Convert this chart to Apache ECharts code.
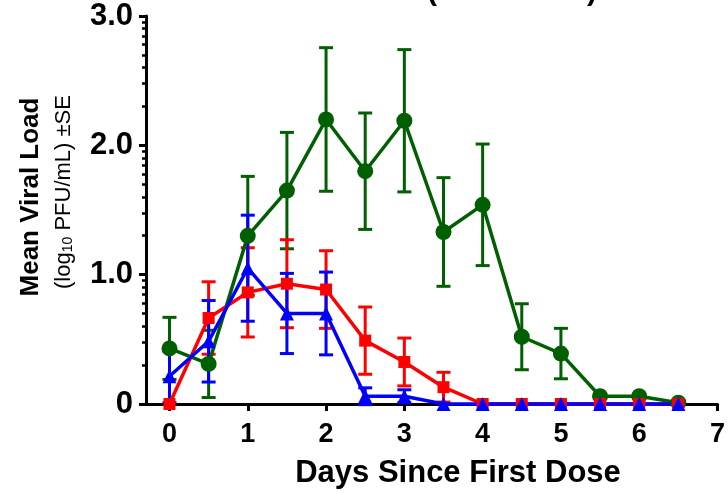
<!DOCTYPE html>
<html lang="en">
  <head>
    <meta charset="UTF-8" />
    <title>Mean Viral Load</title>
    <script src="https://cdn.jsdelivr.net/npm/echarts@6/dist/echarts.min.js"></script>
    <style>
      html, body { margin: 0; padding: 0; background: #fff; }
      .echarts { width: 728px; height: 493px; }
    </style>
  </head>
  <body>
    <div class="echarts"></div>
    <script>
      // days since first dose
      const days = [0, 0.5, 1, 1.5, 2, 2.5, 3, 3.5, 4, 4.5, 5, 5.5, 6, 6.5]
      const xTicks = [0, 1, 2, 3, 4, 5, 6, 7]

      // mean viral load (log10 PFU/mL) and SE per group
      const greenMean = [0.43, 0.31, 1.30, 1.65, 2.20, 1.80, 2.19, 1.33, 1.54, 0.52, 0.39, 0.06, 0.06, 0.01]
      const greenSE = [0.24, 0.26, 0.46, 0.45, 0.555, 0.45, 0.55, 0.42, 0.47, 0.255, 0.195, 0, 0, 0]
      const redMean = [0, 0.665, 0.863, 0.93, 0.885, 0.49, 0.325, 0.13, 0, 0, 0, 0, 0, 0]
      const redSE = [0, 0.28, 0.345, 0.34, 0.30, 0.26, 0.185, 0.115, 0, 0, 0, 0, 0, 0]
      const blueMean = [0.215, 0.485, 1.05, 0.70, 0.70, 0.06, 0.06, 0, 0, 0, 0, 0, 0, 0]
      const blueSE = [0.205, 0.315, 0.41, 0.31, 0.32, 0.065, 0.05, 0, 0, 0, 0, 0, 0, 0]

      // log-spaced minor ticks inside each decade
      const minorTicks = []
      for (let d = 0; d < 3; d++) {
        for (let k = 2; k <= 9; k++) minorTicks.push(d + Math.log10(k))
      }

      const FONT = 'Liberation Sans, Arial, sans-serif'
      const GREEN = '#005f00'
      const RED = '#ff0000'
      const BLUE = '#0000ff'

      const myCharts = echarts.init(document.querySelector('.echarts'))

      function points(mean) {
        return days.map((d, i) => [d, mean[i]])
      }
      function bars(mean, se) {
        return days
          .map((d, i) => [d, mean[i] - se[i], mean[i] + se[i]])
          .filter((r, i) => se[i] > 0)
      }
      function errorBar(color) {
        return function (params, api) {
          const x = api.value(0)
          const lo = api.coord([x, api.value(1)])
          const hi = api.coord([x, api.value(2)])
          const w = 7
          const style = { stroke: color, lineWidth: 3 }
          return {
            type: 'group',
            children: [
              { type: 'line', shape: { x1: lo[0], y1: lo[1], x2: hi[0], y2: hi[1] }, style },
              { type: 'line', shape: { x1: lo[0] - w, y1: lo[1], x2: lo[0] + w, y2: lo[1] }, style },
              { type: 'line', shape: { x1: hi[0] - w, y1: hi[1], x2: hi[0] + w, y2: hi[1] }, style }
            ]
          }
        }
      }
      function errSeries(mean, se, color) {
        return {
          type: 'custom',
          renderItem: errorBar(color),
          data: bars(mean, se),
          encode: { x: 0, y: [1, 2] },
          clip: false,
          silent: true
        }
      }
      function lineSeries(mean, color, symbol, size) {
        return {
          type: 'line',
          data: points(mean),
          symbol: symbol,
          symbolSize: size,
          showAllSymbol: true,
          lineStyle: { color: color, width: 3.5 },
          itemStyle: { color: color, borderWidth: 0 },
          emphasis: { disabled: true },
          clip: false
        }
      }

      const option = {
        animation: false,
        grid: { left: 146, right: 4, top: 16, bottom: 89 },
        xAxis: {
          type: 'value',
          min: -0.3,
          max: 7,
          splitLine: { show: false },
          axisLine: { onZero: false, lineStyle: { color: '#000', width: 3 } },
          axisTick: { customValues: xTicks, length: 7, lineStyle: { color: '#000', width: 3 } },
          axisLabel: {
            customValues: xTicks,
            margin: 17,
            color: '#000',
            fontFamily: FONT,
            fontWeight: 'bold',
            fontSize: 27
          }
        },
        yAxis: [
          {
            type: 'value',
            min: 0,
            max: 3,
            interval: 1,
            splitLine: { show: false },
            axisLine: { show: true, onZero: false, lineStyle: { color: '#000', width: 3 } },
            axisTick: { show: true, length: 7, lineStyle: { color: '#000', width: 3 } },
            axisLabel: {
              margin: 13,
              color: '#000',
              fontFamily: FONT,
              fontWeight: 'bold',
              fontSize: 31,
              formatter: v => (v === 0 ? '0' : v.toFixed(1))
            }
          },
          {
            // minor ticks only
            type: 'value',
            min: 0,
            max: 3,
            position: 'left',
            splitLine: { show: false },
            axisLine: { show: false, onZero: false },
            axisLabel: { show: false },
            axisTick: { show: true, customValues: minorTicks, length: 4, lineStyle: { color: '#000', width: 2.5 } }
          }
        ],
        graphic: [
          {
            type: 'text',
            x: 31,
            y: 197,
            rotation: Math.PI / 2,
            style: {
              text: 'Mean Viral Load',
              font: 'bold 26px ' + FONT,
              fill: '#000',
              align: 'center',
              verticalAlign: 'middle'
            }
          },
          {
            type: 'text',
            x: 64,
            y: 192,
            rotation: Math.PI / 2,
            style: {
              text: '(log{sub|10} PFU/mL) ±SE',
              font: '22px ' + FONT,
              fill: '#000',
              align: 'center',
              verticalAlign: 'middle',
              rich: {
                sub: { fontSize: 14, fontFamily: FONT, verticalAlign: 'bottom', padding: [8, 0, 0, 0] }
              }
            }
          },
          {
            type: 'text',
            x: 458,
            y: 473,
            style: {
              text: 'Days Since First Dose',
              font: 'bold 31px ' + FONT,
              fill: '#000',
              align: 'center',
              verticalAlign: 'middle'
            }
          },
          { type: 'text', x: 432, y: 7, style: { text: '(', font: 'bold 30px ' + FONT, fill: '#000', align: 'center', verticalAlign: 'bottom' } },
          { type: 'text', x: 592, y: 7, style: { text: ')', font: 'bold 30px ' + FONT, fill: '#000', align: 'center', verticalAlign: 'bottom' } }
        ],
        series: [
          errSeries(greenMean, greenSE, GREEN),
          lineSeries(greenMean, GREEN, 'circle', 16),
          errSeries(redMean, redSE, RED),
          lineSeries(redMean, RED, 'rect', 12),
          errSeries(blueMean, blueSE, BLUE),
          lineSeries(blueMean, BLUE, 'triangle', 14)
        ]
      }
      myCharts.setOption(option)
    </script>
  </body>
</html>
